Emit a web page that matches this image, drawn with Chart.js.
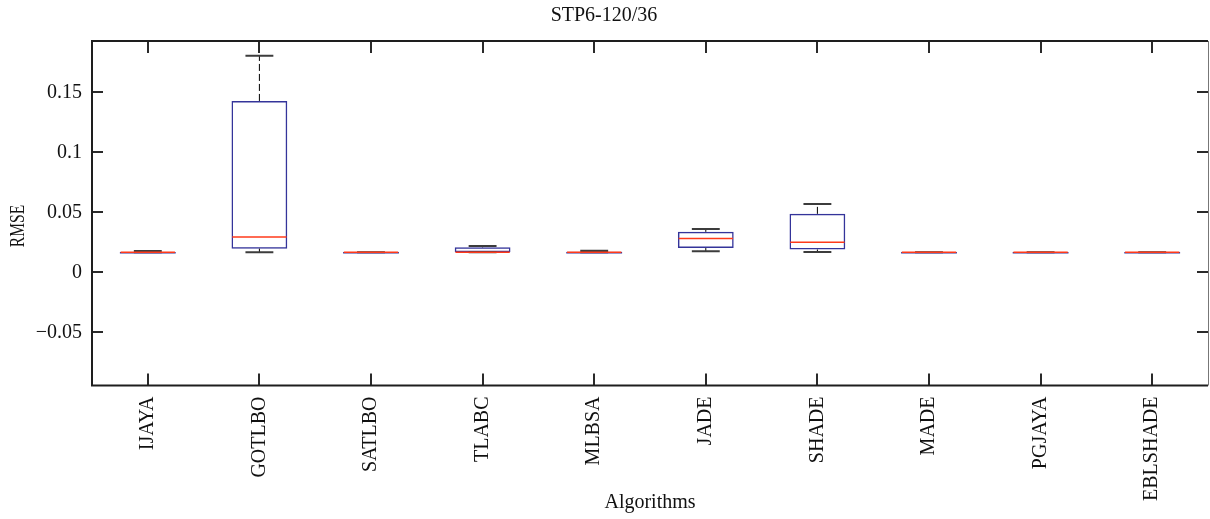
<!DOCTYPE html>
<html><head><meta charset="utf-8">
<script src="https://cdn.jsdelivr.net/npm/chart.js@4.4.1/dist/chart.umd.min.js"></script>
<style>html,body{margin:0;padding:0;background:#fff;}#wrap{width:1210px;height:519px;position:relative;}</style>
</head><body><div id="wrap"><canvas id="c"></canvas></div>
<script>
const categories = ['IJAYA','GOTLBO','SATLBO','TLABC','MLBSA','JADE','SHADE','MADE','PGJAYA','EBLSHADE'];
const whiskerLow  = [0.0166,0.0166,0.0166,0.0166,0.0166,0.0175,0.0170,0.0166,0.0166,0.0166];
const q1          = [0.0166,0.0197,0.0166,0.0166,0.0166,0.0202,0.0190,0.0166,0.0166,0.0166];
const median      = [0.0166,0.0295,0.0166,0.0167,0.0167,0.0281,0.0251,0.0166,0.0166,0.0166];
const q3          = [0.0167,0.1428,0.0166,0.0208,0.0172,0.0337,0.0487,0.0166,0.0166,0.0166];
const whiskerHigh = [0.0177,0.1805,0.0166,0.0220,0.0179,0.0360,0.0570,0.0166,0.0166,0.0166];
const yTicks = [-0.05,0,0.05,0.1,0.15];
const yTickLabels = ['\u22120.05','0','0.05','0.1','0.15'];
const yMin = -0.09435, yMax = 0.19275;

const FONT = "'Liberation Serif','Times New Roman',serif";

const boxPlugin = {
  id: 'boxParts',
  afterDatasetsDraw(chart) {
    const {ctx, scales:{x, y}} = chart;
    const unit = x.getPixelForValue(1) - x.getPixelForValue(0);
    const boxW = unit * 0.5, capW = unit * 0.25;
    ctx.save();
    categories.forEach((c, i) => {
      const cx = x.getPixelForValue(i);
      ctx.strokeStyle = '#000'; ctx.lineWidth = 1; ctx.setLineDash([7,3]);
      ctx.beginPath();
      ctx.moveTo(cx, y.getPixelForValue(q3[i])); ctx.lineTo(cx, y.getPixelForValue(whiskerHigh[i]));
      ctx.moveTo(cx, y.getPixelForValue(q1[i])); ctx.lineTo(cx, y.getPixelForValue(whiskerLow[i]));
      ctx.stroke();
      ctx.setLineDash([]);
      ctx.strokeStyle = '#3c3c3c'; ctx.lineWidth = 2;
      ctx.beginPath();
      const yh = y.getPixelForValue(whiskerHigh[i]), yl = y.getPixelForValue(whiskerLow[i]);
      ctx.moveTo(cx - capW/2, yh); ctx.lineTo(cx + capW/2, yh);
      ctx.moveTo(cx - capW/2, yl); ctx.lineTo(cx + capW/2, yl);
      ctx.stroke();
      const yq1 = y.getPixelForValue(q1[i]), yq3 = y.getPixelForValue(q3[i]);
      if (Math.abs(yq1 - yq3) < 2) {
        ctx.strokeStyle = '#34349a'; ctx.lineWidth = 1.5;
        ctx.beginPath(); ctx.moveTo(cx - boxW/2, yq1 + 0.5); ctx.lineTo(cx + boxW/2, yq1 + 0.5); ctx.stroke();
      }
      const ym = y.getPixelForValue(median[i]);
      ctx.strokeStyle = '#ff3a1a'; ctx.lineWidth = 1.5;
      ctx.beginPath(); ctx.moveTo(cx - boxW/2 + 0.75, ym); ctx.lineTo(cx + boxW/2 - 0.75, ym); ctx.stroke();
    });
    ctx.restore();
  },
  afterDraw(chart) {
    const {ctx, chartArea:ca, scales:{x, y}} = chart;
    ctx.save();
    ctx.strokeStyle = '#2a2a2a'; ctx.lineWidth = 2;
    ctx.beginPath();
    yTicks.forEach(v => {
      const py = Math.round(y.getPixelForValue(v));
      ctx.moveTo(ca.left, py); ctx.lineTo(ca.left + 11, py);
      ctx.moveTo(ca.right, py); ctx.lineTo(ca.right - 11, py);
    });
    categories.forEach((c, i) => {
      const px = Math.round(x.getPixelForValue(i));
      ctx.moveTo(px, ca.top); ctx.lineTo(px, ca.top + 12);
      ctx.moveTo(px, ca.bottom); ctx.lineTo(px, ca.bottom - 12);
    });
    ctx.stroke();
    ctx.strokeStyle = '#1e1e1e'; ctx.lineWidth = 2;
    ctx.beginPath();
    ctx.moveTo(ca.right, ca.top); ctx.lineTo(ca.left, ca.top); ctx.lineTo(ca.left, ca.bottom); ctx.lineTo(ca.right, ca.bottom);
    ctx.stroke();
    ctx.strokeStyle = '#777'; ctx.lineWidth = 1;
    ctx.beginPath(); ctx.moveTo(ca.right + 0.5, ca.top); ctx.lineTo(ca.right + 0.5, ca.bottom); ctx.stroke();
    // y axis title (slightly condensed serif, like the reference)
    ctx.translate(18.5, 226);
    ctx.rotate(-Math.PI/2);
    ctx.scale(0.78, 1);
    ctx.font = '20px ' + FONT; ctx.fillStyle = '#111';
    ctx.textAlign = 'center'; ctx.textBaseline = 'middle';
    ctx.fillText('RMSE', 0, 0);
    ctx.restore();
  }
};

new Chart(document.getElementById('c'), {
  type: 'bar',
  data: {
    labels: categories,
    datasets: [{
      data: categories.map((c, i) => [q1[i], q3[i]]),
      backgroundColor: 'rgba(0,0,0,0)',
      borderColor: '#34349a',
      borderWidth: 1.5,
      borderSkipped: false,
      barPercentage: 0.5,
      categoryPercentage: 1.0
    }]
  },
  options: {
    responsive: true, maintainAspectRatio: false, animation: false,
    layout: {padding: {left: 0, right: 2, top: 0, bottom: 0}},
    plugins: {
      legend: {display: false}, tooltip: {enabled: false},
      title: {display: true, text: 'STP6-120/36', color: '#111',
        font: {family: FONT, size: 20, weight: 'normal', lineHeight: 1.2},
        padding: {top: 4, bottom: 13}}
    },
    scales: {
      x: {
        type: 'category', offset: true,
        grid: {display: false, drawTicks: false}, border: {display: false},
        ticks: {minRotation: 90, maxRotation: 90, autoSkip: false, padding: 11, color: '#111',
          font: {family: FONT, size: 20}},
        title: {display: true, text: 'Algorithms', color: '#111', font: {family: FONT, size: 20, lineHeight: 1.2},
          padding: {top: 0, bottom: 4}},
        afterFit: s => { s.height = 133.5; }
      },
      y: {
        min: yMin, max: yMax,
        grid: {display: false, drawTicks: false}, border: {display: false},
        afterBuildTicks: s => { s.ticks = yTicks.map(v => ({value: v})); },
        ticks: {padding: 10, color: '#111', font: {family: FONT, size: 20},
          callback: v => yTickLabels[yTicks.indexOf(v)]},
        afterFit: s => { s.width = 92; }
      }
    }
  },
  plugins: [boxPlugin]
});
</script></body></html>
